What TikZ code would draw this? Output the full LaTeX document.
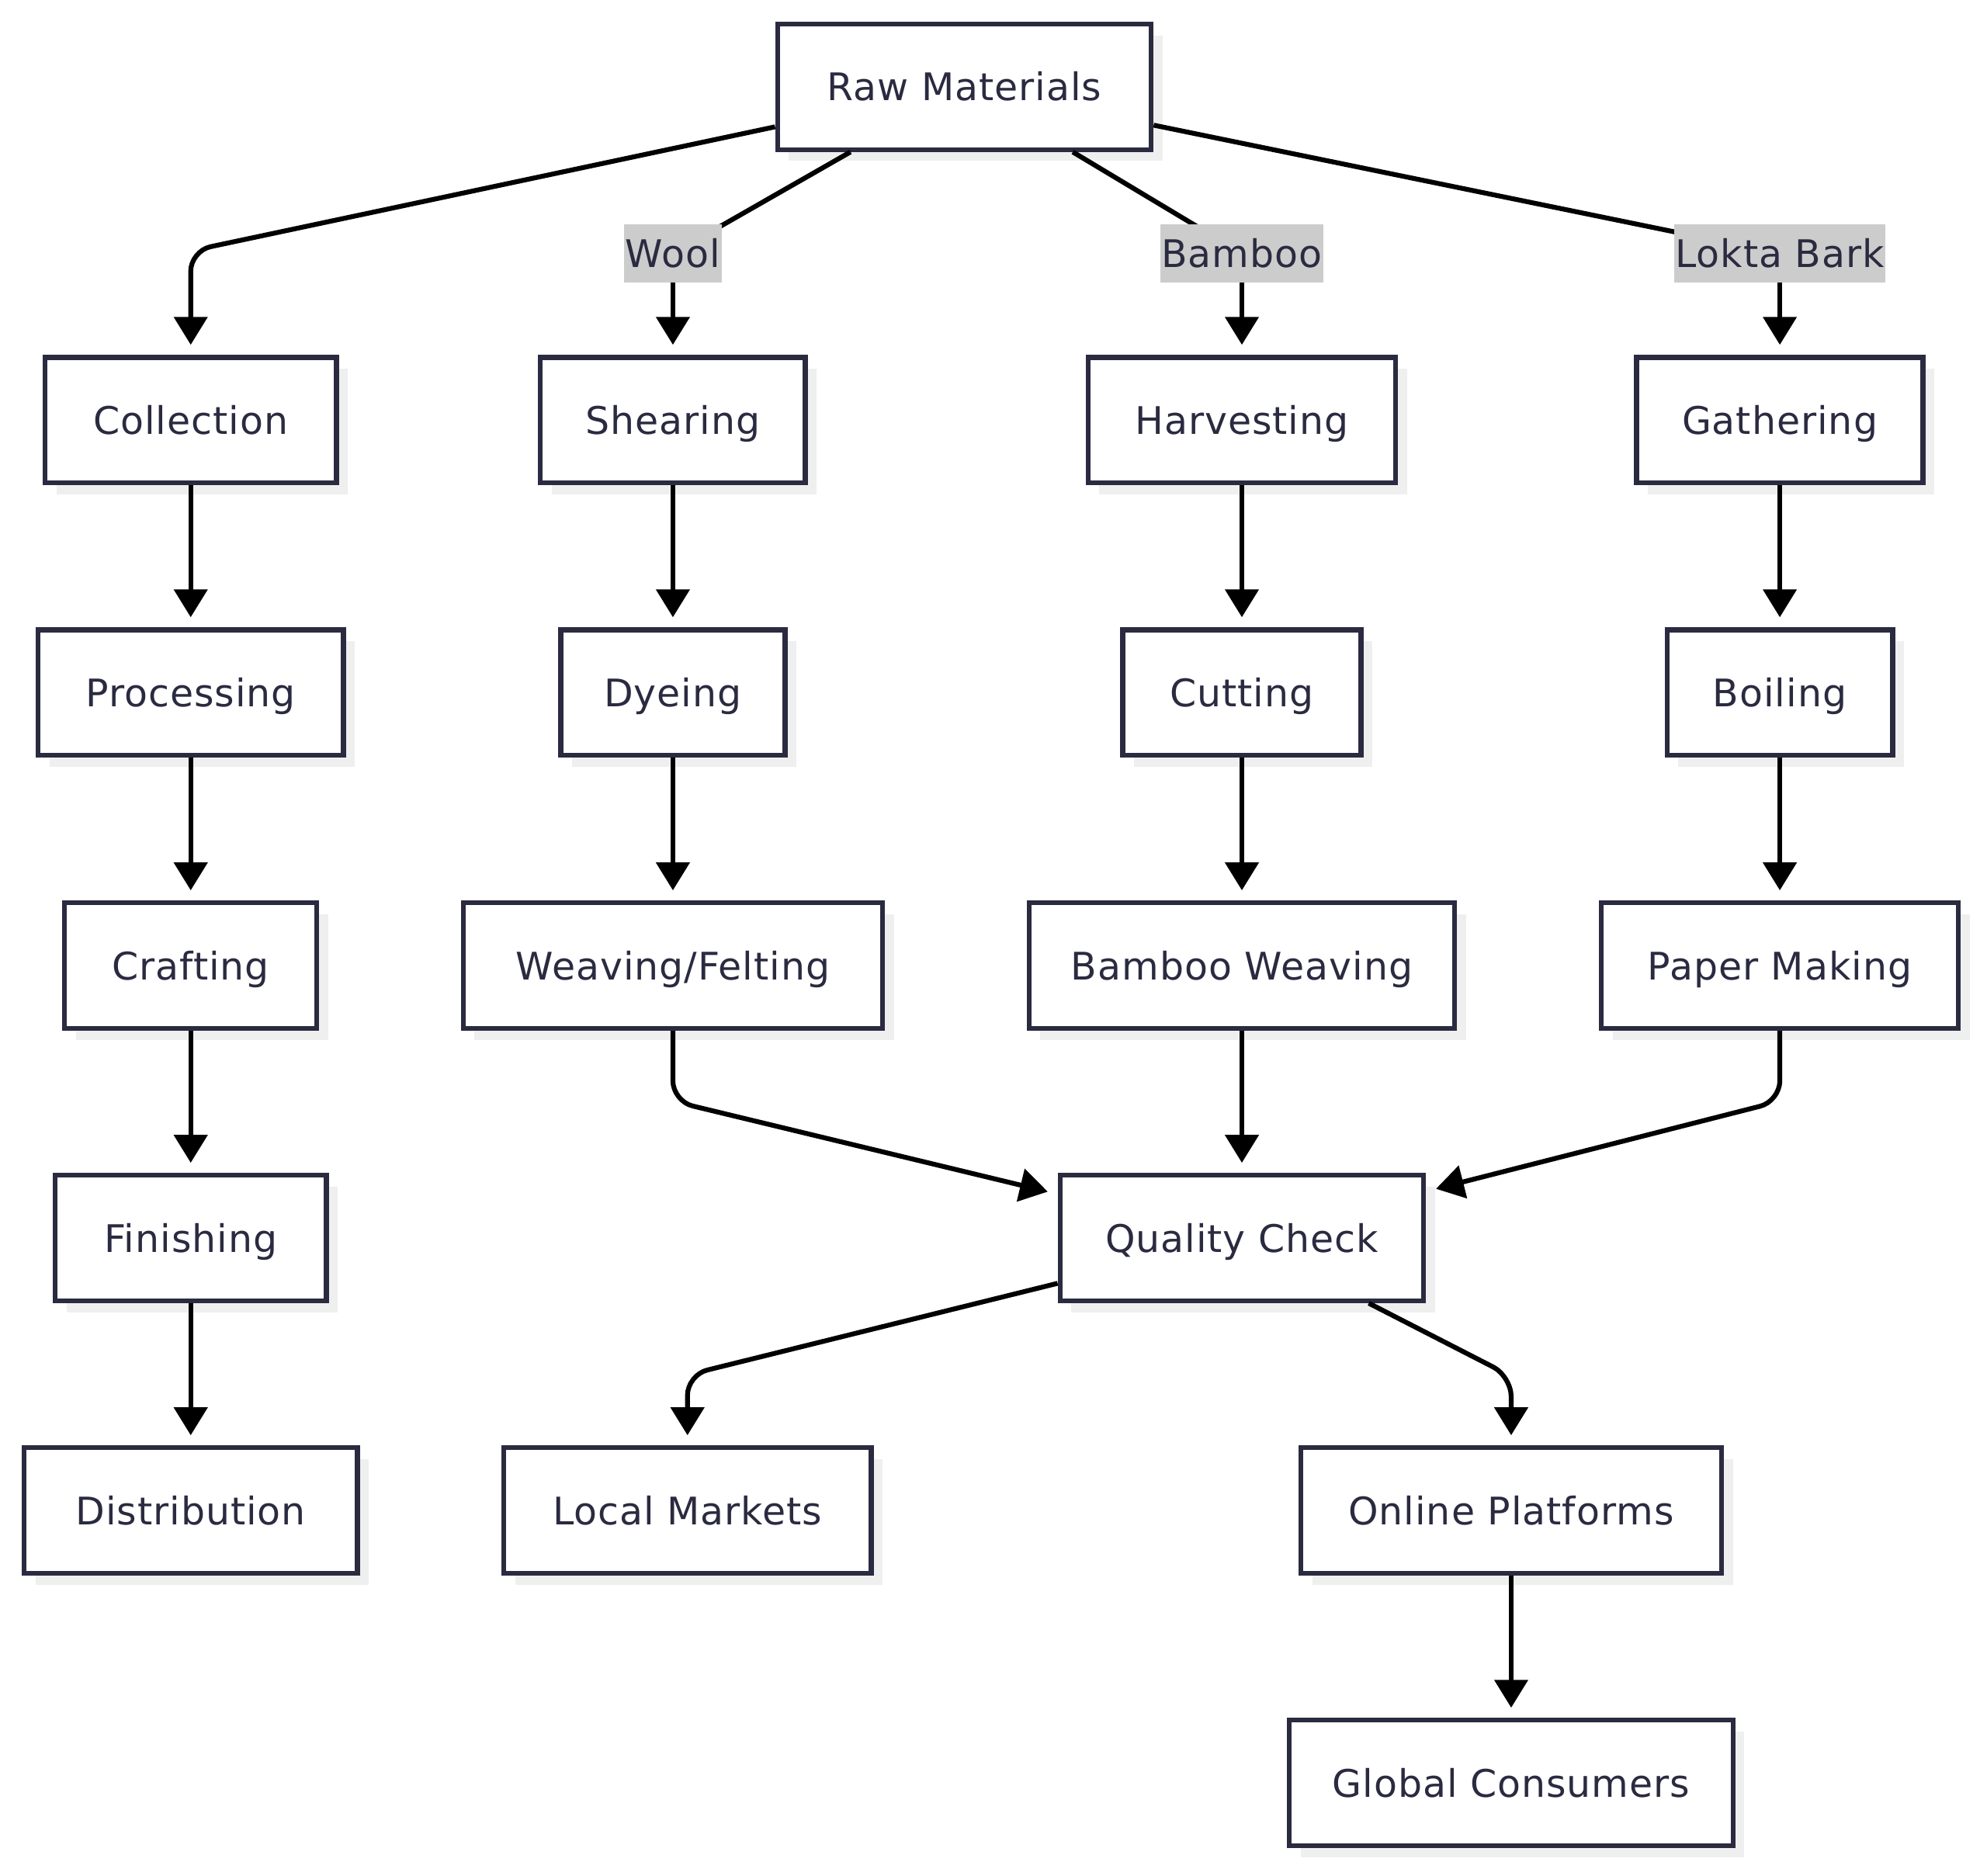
\documentclass[tikz,border=0pt]{standalone}
\usepackage{fontspec}
\setmainfont{DejaVu Sans}[LetterSpace=2]
\usetikzlibrary{arrows.meta,shadows}
\definecolor{boxc}{HTML}{2A2A40}
\definecolor{txtc}{HTML}{2A2A40}
\definecolor{shadowc}{HTML}{EFEFEF}
\definecolor{lblc}{HTML}{CCCCCC}
\tikzset{
  box/.style={draw=boxc, line width=3.8pt, fill=white, minimum height=99pt, inner sep=0pt,
    text=txtc, font=\fontsize{30}{36}\selectfont, text height=28pt, text depth=6pt,
    drop shadow={shadow xshift=9pt, shadow yshift=-9pt, fill=shadowc, opacity=1}},
  lbl/.style={fill=lblc, text=txtc, inner xsep=1pt, inner ysep=0pt, minimum height=46pt,
    font=\fontsize{30}{36}\selectfont, text height=28pt, text depth=6pt},
  link/.style={line width=3.8pt, draw=black, rounded corners=16pt},
  arr/.style={link, -{Triangle[length=22pt,width=26pt]}, shorten >=8pt}
}
\begin{document}
\begin{tikzpicture}[x=1pt,y=-1pt]
\useasboundingbox (0,0) rectangle (1568,1480);
% nodes
\node[box, minimum width=295pt] (rm) at (761,68.5) {Raw Materials};
\node[box, minimum width=230pt] (coll) at (150.5,331.5) {Collection};
\node[box, minimum width=209pt] (shear) at (531,331.5) {Shearing};
\node[box, minimum width=243pt] (harv) at (980,331.5) {Harvesting};
\node[box, minimum width=226pt] (gath) at (1404.5,331.5) {Gathering};
\node[box, minimum width=241pt] (proc) at (150.5,546.5) {Processing};
\node[box, minimum width=177pt] (dye) at (531,546.5) {Dyeing};
\node[box, minimum width=188pt] (cut) at (980,546.5) {Cutting};
\node[box, minimum width=178pt] (boil) at (1404.5,546.5) {Boiling};
\node[box, minimum width=199pt] (craft) at (150.5,762) {Crafting};
\node[box, minimum width=331pt] (weave) at (531,762) {Weaving/Felting};
\node[box, minimum width=336pt] (bweave) at (980,762) {Bamboo Weaving};
\node[box, minimum width=282pt] (paper) at (1404.5,762) {Paper Making};
\node[box, minimum width=214pt] (fin) at (150.5,977) {Finishing};
\node[box, minimum width=287pt] (qc) at (980,977) {Quality Check};
\node[box, minimum width=263pt] (dist) at (150.5,1192) {Distribution};
\node[box, minimum width=290pt] (local) at (542.5,1192) {Local Markets};
\node[box, minimum width=332pt] (online) at (1192.5,1192) {Online Platforms};
\node[box, minimum width=350pt] (global) at (1192.5,1407) {Global Consumers};
% corner coordinates
\coordinate (kcoll) at (150.5,198);
\coordinate (kweave) at (531,869);
\coordinate (kpaper) at (1404.5,869);
\coordinate (klocal) at (542.5,1085);
\coordinate (konline) at (1192.5,1086);
% label positions
\coordinate (pwool) at (531,200);
\coordinate (pbamboo) at (980,200);
\coordinate (plokta) at (1404.5,200);
% raw-to-label lines (under labels)
\draw[link] (rm) -- (pwool);
\draw[link] (rm) -- (pbamboo);
\draw[link] (rm) -- (plokta);
% labels
\node[lbl] (wool) at (pwool) {Wool};
\node[lbl] (bamboo) at (pbamboo) {Bamboo};
\node[lbl] (lokta) at (plokta) {Lokta Bark};
% edges
\draw[arr] (rm) -- (kcoll) -- (coll);
\draw[arr] (wool) -- (shear);
\draw[arr] (bamboo) -- (harv);
\draw[arr] (lokta) -- (gath);
\draw[arr] (coll) -- (proc);
\draw[arr] (proc) -- (craft);
\draw[arr] (craft) -- (fin);
\draw[arr] (fin) -- (dist);
\draw[arr] (shear) -- (dye);
\draw[arr] (dye) -- (weave);
\draw[arr] (harv) -- (cut);
\draw[arr] (cut) -- (bweave);
\draw[arr] (gath) -- (boil);
\draw[arr] (boil) -- (paper);
\draw[arr] (weave) -- (kweave) -- (qc);
\draw[arr] (bweave) -- (qc);
\draw[arr] (paper) -- (kpaper) -- (qc);
\draw[arr] (qc) -- (klocal) -- (local);
\draw[arr] (qc) -- (konline) -- (online);
\draw[arr] (online) -- (global);
\end{tikzpicture}
\end{document}
